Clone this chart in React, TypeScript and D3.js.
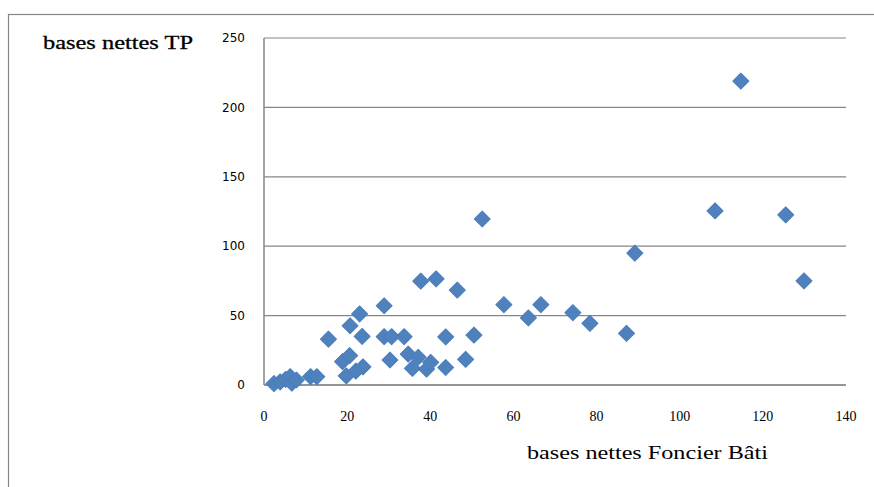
import React from "react";
import * as d3 from "d3";

const foncierBati: number[] = [
  114.7, 108.5, 125.5, 129.9, 89.2, 52.5, 74.3, 78.4, 87.2, 63.6,
  66.6, 57.7, 46.5, 41.4, 37.7, 28.9, 23.0, 20.7, 15.5, 23.6,
  28.9, 30.7, 33.7, 43.7, 50.5, 30.3, 34.7, 37.1, 35.7, 39.1,
  40.1, 43.7, 48.5, 18.9, 20.6, 19.8, 22.1, 23.8, 11.2, 12.7,
  2.4, 3.9, 5.2, 6.3, 6.7, 7.8,
];
const tp: number[] = [
  219, 125.5, 122.5, 75, 95, 119.6, 52.1, 44.4, 37.2, 48.3,
  57.9, 57.9, 68.4, 76.4, 74.9, 57.1, 51.2, 42.7, 33, 35,
  34.8, 34.8, 34.8, 34.6, 36, 18, 22.3, 20, 12, 11.5,
  16.3, 12.6, 18.5, 16.8, 21.2, 6.5, 10, 13, 6, 6,
  1, 2.2, 4, 6, 1.3, 3.6,
];
const xTicks: number[] = [0, 20, 40, 60, 80, 100, 120, 140];
const yTicks: number[] = [0, 50, 100, 150, 200, 250];
const xTitle = "bases nettes Foncier Bâti";
const yTitle = "bases nettes TP";

export default function App() {
  const W = 874;
  const H = 487;
  const x = d3.scaleLinear().domain([0, 140]).range([264, 846]);
  const y = d3.scaleLinear().domain([0, 250]).range([385, 38]);
  const grid = "#868686";
  const marker = d3.symbol().type(d3.symbolSquare).size(128)();
  const pts = foncierBati.map((v, i) => ({ x: v, y: tp[i] }));

  return (
    <svg
      width={W}
      height={H}
      style={{ position: "absolute", left: 0, top: 0, background: "#fff" }}
    >
      <rect x={0} y={0} width={W} height={H} fill="#fff" />
      <rect x={8.5} y={14.5} width={W + 20} height={H + 20} fill="none" stroke={grid} strokeWidth={1.2} />
      {yTicks.map((t) => (
        <line key={"g" + t} x1={x(0)} x2={x(140)} y1={y(t)} y2={y(t)} stroke={grid} strokeWidth={1.2} />
      ))}
      <line x1={x(0)} x2={x(0)} y1={y(250)} y2={y(0)} stroke={grid} strokeWidth={1.5} />
      <line x1={x(0)} x2={x(140)} y1={y(0)} y2={y(0)} stroke={grid} strokeWidth={1.5} />
      {yTicks.map((t) => (
        <text
          key={"yl" + t}
          x={245}
          y={y(t)}
          dy="0.35em"
          textAnchor="end"
          fontFamily="'DejaVu Sans', sans-serif"
          fontSize={12}
          fill="#000"
        >
          {t}
        </text>
      ))}
      {xTicks.map((t) => (
        <text
          key={"xl" + t}
          x={x(t)}
          y={421}
          textAnchor="middle"
          fontFamily="'Liberation Serif', serif"
          fontSize={14}
          fill="#000"
        >
          {t}
        </text>
      ))}
      {pts.map((p, i) => (
        <path
          key={"p" + i}
          d={marker ?? ""}
          transform={`translate(${x(p.x)},${y(p.y)}) rotate(45)`}
          fill="#4F81BD"
          stroke="#4A7EBB"
          strokeWidth={1}
          strokeLinejoin="round"
        />
      ))}
      <text
        x={43}
        y={49}
        fontFamily="'Liberation Serif', serif"
        fontSize={19}
        textLength={150}
        lengthAdjust="spacingAndGlyphs"
        stroke="#000"
        strokeWidth={0.3}
        fill="#000"
      >
        {yTitle}
      </text>
      <text
        x={527}
        y={459}
        fontFamily="'Liberation Serif', serif"
        fontSize={18}
        textLength={241}
        lengthAdjust="spacingAndGlyphs"
        fill="#000"
      >
        {xTitle}
      </text>
    </svg>
  );
}
